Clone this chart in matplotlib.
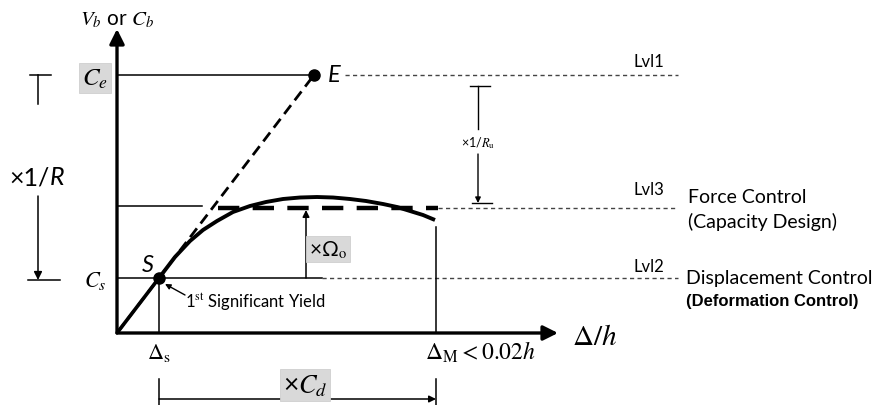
import matplotlib
matplotlib.use("Agg")
import matplotlib.pyplot as plt

plt.rcParams["font.family"] = ["Lato", "DejaVu Sans"]
plt.rcParams["mathtext.fontset"] = "stix"

# Schematic pushover-curve quantities (drift on x, base-shear coefficient on y)
drift_s = 0.42          # first significant yield drift
drift_M = 3.19          # maximum drift
drift_E = 1.97          # elastic demand drift
C_s = 0.55              # design level (Lvl2)
C_omega = 1.25          # overstrength level (Lvl3)
C_e = 2.58              # elastic level (Lvl1)
level_end = 5.61        # right end of the level lines

# Actual (nonlinear) response curve beyond first yield
curve_x = [0.42, 0.58, 0.73, 0.86, 1.00, 1.16, 1.33, 1.49, 1.66, 1.83,
           2.00, 2.16, 2.33, 2.49, 2.66, 2.80, 2.93, 3.06, 3.18]
curve_y = [0.55, 0.76, 0.92, 1.03, 1.12, 1.21, 1.27, 1.31, 1.34, 1.355,
           1.36, 1.355, 1.34, 1.32, 1.29, 1.26, 1.22, 1.18, 1.13]

level_names = ["Lvl1", "Lvl3", "Lvl2"]

fig = plt.figure(figsize=(8.84, 4.06), dpi=100)
ax = fig.add_axes([0, 0, 1, 1])
ax.set_xlim(-1.17, 7.67)
ax.set_ylim(-0.72, 3.34)
ax.axis("off")

K = "black"
box = dict(boxstyle="square,pad=0.12", facecolor="#d9d9d9", edgecolor="#cfcfcf", lw=0.6)


def arrow(x0, y0, x1, y1, lw=2.2, ms=20, style="-|>"):
    ax.annotate("", xy=(x1, y1), xytext=(x0, y0),
                arrowprops=dict(arrowstyle=style, lw=lw, color=K,
                                mutation_scale=ms, shrinkA=0, shrinkB=0))


# axes
arrow(0, 0, 0, 3.04, lw=2.4, ms=22)
arrow(0, 0, 4.41, 0, lw=2.4, ms=22)

# elastic line (dashed) and elastic branch up to first yield (solid)
ax.plot([0, drift_E], [0, C_e], color=K, lw=2.0, ls=(0, (4, 2.2)), zorder=3)
ax.plot([0, drift_s], [0, C_s], color=K, lw=2.6, solid_capstyle="butt", zorder=4)
ax.plot(curve_x, curve_y, color=K, lw=2.8, zorder=4,
        solid_joinstyle="round", solid_capstyle="butt")
ax.plot([drift_E], [C_e], "o", color=K, ms=8, zorder=5)
ax.plot([drift_s], [C_s], "o", color=K, ms=8, zorder=5)

# level lines
thin_dash = (0, (3, 2.4))
ax.plot([0, drift_E], [C_e, C_e], color=K, lw=1.1)
ax.plot([2.28, level_end], [C_e, C_e], color="#444444", lw=1.0, ls=thin_dash)

ax.plot([0, 0.85], [C_omega + 0.02, C_omega + 0.02], color=K, lw=1.1)
ax.plot([1.01, 3.21], [C_omega, C_omega], color=K, lw=3.2, ls=(0, (4.8, 3.0)), zorder=3)
ax.plot([3.21, level_end], [C_omega, C_omega], color="#444444", lw=1.0, ls=thin_dash)

ax.plot([0, 2.05], [C_s, C_s], color=K, lw=1.1)
ax.plot([2.05, level_end], [C_s, C_s], color="#444444", lw=1.0, ls=thin_dash)

# drift markers
ax.plot([drift_s, drift_s], [0, C_s - 0.05], color=K, lw=1.1)
ax.plot([drift_M, drift_M], [0, 1.06], color=K, lw=1.1)
for xv in (drift_s, drift_M):
    ax.plot([xv, xv], [-0.46, -0.72], color=K, lw=1.1)
arrow(drift_s, -0.66, drift_M, -0.66, lw=1.1, ms=10)

# overstrength arrow
arrow(1.89, C_s, 1.89, C_omega - 0.02, lw=1.1, ms=10)

# x 1/R bracket
xr = -0.79
ax.plot([-0.87, -0.66], [C_e, C_e], color=K, lw=1.1)
ax.plot([xr, xr], [C_e, 2.29], color=K, lw=1.1)
arrow(xr, 1.37, xr, C_s - 0.02, lw=1.1, ms=12)
ax.plot([-0.89, -0.57], [C_s - 0.02, C_s - 0.02], color=K, lw=1.1)

# x 1/R_u bracket
xu = 3.61
ax.plot([3.53, 3.73], [2.47, 2.47], color=K, lw=1.0)
ax.plot([xu, xu], [2.47, 2.04], color=K, lw=1.0)
arrow(xu, 1.79, xu, C_omega + 0.05, lw=1.0, ms=8)
ax.plot([3.55, 3.75], [C_omega + 0.05, C_omega + 0.05], color=K, lw=1.0)

# first-yield pointer
arrow(0.68, 0.38, 0.48, 0.49, lw=1.0, ms=8)

# labels
ax.text(0, 3.14, r"$V_b$ or $C_b$", ha="center", va="center", fontsize=15)
ax.text(-0.22, C_e - 0.03, r"$C_e$", ha="center", va="center", fontsize=18, bbox=box)
ax.text(-0.22, C_s - 0.02, r"$C_s$", ha="center", va="center", fontsize=16)
ax.text(2.17, C_e, "E", ha="center", va="center", fontsize=17, style="italic")
ax.text(0.31, 0.68, "S", ha="center", va="center", fontsize=17, style="italic")
ax.text(xr + 0.12, 1.56, "×1/", ha="right", va="center", fontsize=18)
ax.text(xr + 0.12, 1.56, "R", ha="left", va="center", fontsize=18, style="italic")
ax.text(xu, 1.91, r"×1/$R_\mathrm{u}$", ha="center", va="center", fontsize=9)
ax.text(2.11, 0.84, r"×Ω$_\mathrm{o}$", ha="center", va="center", fontsize=15, bbox=box)
ax.text(0.68, 0.32, r"1$^{\mathrm{st}}$ Significant Yield", ha="left", va="center",
        fontsize=12)

for name, lv, dy in zip(level_names, [C_e, C_omega, C_s], [0.14, 0.19, 0.12]):
    ax.text(5.32, lv + dy, name, ha="center", va="center", fontsize=12)

ax.text(5.71, 1.36, "Force Control", ha="left", va="center", fontsize=14)
ax.text(5.71, 1.12, "(Capacity Design)", ha="left", va="center", fontsize=14)
ax.text(5.69, 0.55, "Displacement Control", ha="left", va="center", fontsize=14)
ax.text(5.69, 0.32, "(Deformation Control)", ha="left", va="center", fontsize=12,
        fontweight="bold", family=["Liberation Sans", "DejaVu Sans"])

ax.text(drift_s, -0.19, r"$\Delta_{\mathrm{s}}$", ha="center", va="center", fontsize=16)
ax.text(drift_M + 0.44, -0.18, r"$\Delta_{\mathrm{M}} < 0.02h$", ha="center", va="center",
        fontsize=17)
ax.text(4.78, -0.03, r"$\Delta/h$", ha="center", va="center", fontsize=21)
ax.text(1.88, -0.52, r"×$C_d$", ha="center", va="center", fontsize=19, bbox=box)

fig.savefig("out.png", dpi=100)
